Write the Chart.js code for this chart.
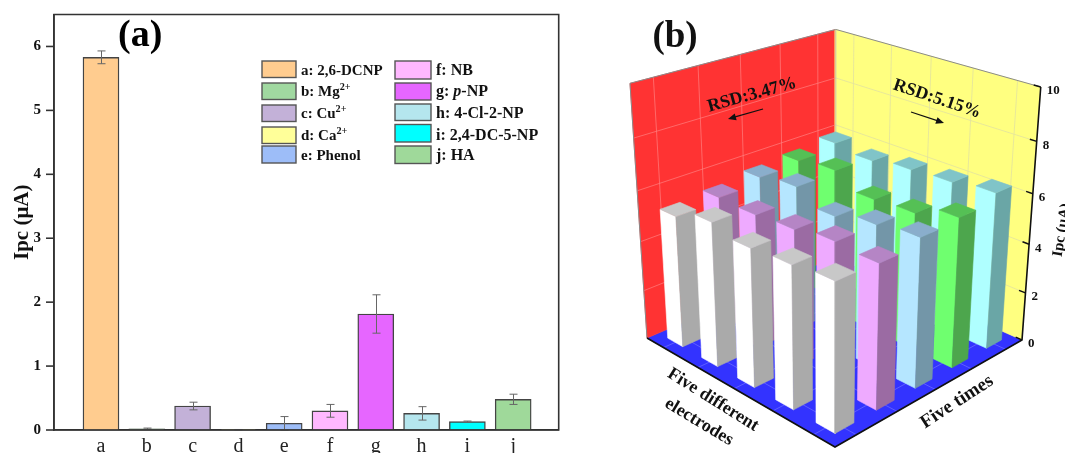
<!DOCTYPE html>
<html><head><meta charset="utf-8">
<style>
html,body{margin:0;padding:0;background:#fff;width:1065px;height:453px;overflow:hidden}
canvas{position:absolute;top:0;filter:blur(0.45px)}
#ca{left:0}#cb{left:600px}
</style>
<script src="https://cdn.jsdelivr.net/npm/chart.js@4"></script>
</head><body>
<canvas id="ca" width="600" height="453"></canvas>
<canvas id="cb" width="465" height="453"></canvas>
<script>
// ---------- panel (a) data ----------
const categories=["a","b","c","d","e","f","g","h","i","j"];
const ipcValues=[5.83,0.02,0.375,0.005,0.105,0.30,1.815,0.26,0.13,0.48];
const ipcErrors=[0.10,0.01,0.06,0.003,0.105,0.10,0.30,0.105,0.01,0.08];
const barColors=["#FFCC8F","#A0D8A0","#C3B1D8","#FFFF99","#9DBDF8","#FFB8FF","#E666FF","#B5E6EE","#00FFFF","#9FD99A"];
const legendLabels=["a: 2,6-DCNP","b: Mg<sup>2+</sup>","c: Cu<sup>2+</sup>","d: Ca<sup>2+</sup>","e: Phenol","f: NB","g: <i>p</i>-NP","h: 4-Cl-2-NP","i: 2,4-DC-5-NP","j: HA"];
// ---------- panel (b) data ----------
const whiteRow=[5.29,5.72,5.42,5.51,5.65];
const pinkRow=[5.43,5.38,5.47,5.69,5.59];
const blueRow=[5.66,5.88,5.34,5.67,5.86];
const greenRow=[5.78,5.96,5.40,5.49,5.96];
const cyanRow=[5.98,5.80,6.01,6.10,6.29];
const zTicks=[0,2,4,6,8,10];

const SERIF="'Liberation Serif'";
const INK="#333";

const errorBars={id:'errorBars',afterDatasetsDraw(c){
  const {ctx,scales:{x,y}}=c;ctx.save();ctx.strokeStyle="#666";ctx.lineWidth=1;
  ipcValues.forEach((v,i)=>{
    const px=Math.round(x.getPixelForValue(i))+.5,t=y.getPixelForValue(v+ipcErrors[i]),b=y.getPixelForValue(Math.max(0,v-ipcErrors[i]));
    ctx.beginPath();ctx.moveTo(px,t);ctx.lineTo(px,b);
    ctx.moveTo(px-4,t);ctx.lineTo(px+4,t);ctx.moveTo(px-4,b);ctx.lineTo(px+4,b);ctx.stroke();
  });ctx.restore();
}};
const frame={id:'frame',afterDatasetsDraw(c){
  const {ctx,chartArea:a,scales:{y}}=c;ctx.save();ctx.strokeStyle=INK;ctx.lineWidth=1.6;
  ctx.beginPath();ctx.moveTo(a.left,a.bottom);ctx.lineTo(a.left,a.top);ctx.lineTo(a.right,a.top);ctx.lineTo(a.right,a.bottom);ctx.lineTo(a.left,a.bottom);ctx.stroke();
  y.ticks.forEach(t=>{const p=y.getPixelForValue(t.value);ctx.beginPath();ctx.moveTo(a.left-8,p);ctx.lineTo(a.left,p);ctx.stroke();});
  ctx.fillStyle="#000";ctx.font="bold 38px "+SERIF;ctx.textBaseline="alphabetic";ctx.textAlign="left";ctx.fillText("(a)",118,46);
  ctx.restore();
}};
function richText(ctx,html,x,y,size){
  const parts=html.split(/(<sup>.*?<\/sup>|<i>.*?<\/i>)/).filter(Boolean);
  parts.forEach(p=>{
    let dy=0,font="bold "+size+"px "+SERIF,txt=p;
    if(p.startsWith("<sup>")){txt=p.replace(/<\/?sup>/g,"");font="bold "+(size*.68)+"px "+SERIF;dy=-6;}
    else if(p.startsWith("<i>")){txt=p.replace(/<\/?i>/g,"");font="italic bold "+size+"px "+SERIF;}
    ctx.font=font;ctx.fillText(txt,x,y+dy);x+=ctx.measureText(txt).width;
  });
}
const legendBox={id:'legendBox',afterDatasetsDraw(c){
  const {ctx}=c;ctx.save();ctx.textBaseline="alphabetic";ctx.textAlign="left";
  const tops=[61,83,105,127,146],h=[16.5,16.5,16.5,16.5,17];
  const tops2=[61,83,104,124.5,146],h2=[18,17,16.5,17.5,17.5];
  const base=[75,96,118,140,160];
  legendLabels.forEach((l,i)=>{
    const col=i<5?0:1,r=i%5;
    const x=col?395:262,w=col?36:34,top=col?tops2[r]:tops[r],ht=col?h2[r]:h[r];
    ctx.fillStyle=barColors[i];ctx.strokeStyle="#555";ctx.lineWidth=1.4;
    ctx.fillRect(x,top,w,ht);ctx.strokeRect(x,top,w,ht);
    ctx.fillStyle="#111";richText(ctx,l,col?436:301,base[r],col?16:15);
  });
  ctx.restore();
}};
new Chart(document.getElementById('ca'),{
  type:'bar',
  data:{datasets:[{label:'Ipc',data:ipcValues.map((v,i)=>({x:i,y:v})),backgroundColor:barColors,borderColor:"#444",borderWidth:1.4,barThickness:36}]},
  options:{responsive:false,animation:false,devicePixelRatio:1,
    layout:{padding:{top:14.5,right:41.3,left:0,bottom:0}},
    plugins:{legend:{display:false},tooltip:{enabled:false}},
    scales:{
      x:{type:'linear',offset:false,min:-1.026,max:9.994,
        afterFit(s){s.height=23;s.paddingLeft=0;s.paddingRight=0;},
        grid:{display:false,drawTicks:false},border:{color:INK,width:1.6},
        ticks:{stepSize:1,includeBounds:false,autoSkip:false,maxRotation:0,padding:5,color:"#222",font:{family:SERIF,size:20},callback:v=>categories[v]??''}},
      y:{min:0,max:6.5,
        afterFit(s){s.width=54;s.paddingTop=0;s.paddingBottom=0;},
        grid:{drawOnChartArea:false,drawTicks:false},border:{color:INK,width:1.6},
        title:{display:true,text:"Ipc (μA)",color:"#111",font:{family:SERIF,size:21,weight:'bold'},padding:{top:10,bottom:0}},
        ticks:{stepSize:1,includeBounds:false,padding:13,color:"#111",font:{family:SERIF,size:15,weight:'bold'}}}
    }},
  plugins:[errorBars,legendBox,frame]
});

// ---------- panel (b): perspective view of a 5×5 bar grid ----------
const corner={L:[647,338],F:[835,447],R:[1022,340],B:[835,257]};
const vanish=[825,3000];
const wallTopY=87;
const cam=(()=>{
  const [x0,y0]=corner.L,[x1,y1]=corner.F,[x2,y2]=corner.R,[x3,y3]=corner.B;
  const dx1=x1-x2,dx2=x3-x2,sx=x0-x1+x2-x3,dy1=y1-y2,dy2=y3-y2,sy=y0-y1+y2-y3;
  const den=dx1*dy2-dx2*dy1,g=(sx*dy2-dx2*sy)/den,h=(dx1*sy-sx*dy1)/den;
  const a=x1-x0+g*x1,b=x3-x0+h*x3,d=y1-y0+g*y1,e=y3-y0+h*y3;
  const q=(1+g+h)*(wallTopY-y2)/(vanish[1]-wallTopY);
  return {a,b,c:x0,d,e,f:y0,g,h,q};
})();
function project(s,t,z){
  const w=z/10,m=cam;
  const W=m.g*s+m.h*t+1+m.q*w;
  return {x:(m.a*s+m.b*t+m.c+m.q*w*vanish[0])/W,y:(m.d*s+m.e*t+m.f+m.q*w*vanish[1])/W};
}
const layers=[];
function poly(label,pts,color){layers.push({label,data:[...pts,pts[0]],showLine:true,fill:'shape',backgroundColor:color,borderColor:color,borderWidth:.6,pointRadius:0,tension:0,clip:false});}
function line(label,pts,color,w){layers.push({label,data:pts,showLine:true,fill:false,borderColor:color,borderWidth:w,pointRadius:0,tension:0,clip:false});}
// walls and floor
poly('floor',[project(0,0,0),project(1,0,0),project(1,1,0),project(0,1,0)],"#3333FF");
poly('left wall',[project(0,0,0),project(0,1,0),project(0,1,10),project(0,0,10)],"#FF3333");
poly('right wall',[project(0,1,0),project(1,1,0),project(1,1,10),project(0,1,10)],"#FFFF80");
const gridPos=[.1,.3,.5,.7,.9];
gridPos.forEach(p=>{
  line('g',[project(p,0,0),project(p,1,0)],"#7070FF",.7);
  line('g',[project(0,p,0),project(1,p,0)],"#7070FF",.7);
  line('g',[project(0,p,0),project(0,p,10)],"#FF8080",.7);
  line('g',[project(p,1,0),project(p,1,10)],"#E2E2A0",.8);
});
zTicks.slice(1,-1).forEach(z=>{
  line('g',[project(0,0,z),project(0,1,z)],"#FF8080",.7);
  line('g',[project(0,1,z),project(1,1,z)],"#E2E2A0",.8);
});
line('edge',[project(0,0,0),project(0,0,10),project(0,1,10),project(1,1,10)],"#8a8a8a",1);
line('edge',[project(0,1,0),project(0,1,10)],"#bbb",.8);
line('axis',[project(0,0,0),project(1,0,0),project(1,1,0),project(1,1,10)],"#111",1.6);
zTicks.forEach(z=>line('tick',[project(1,1,z),project(.97,1,z)],"#111",1.4));
// bars, back row first
const rows=[
  {name:'cyan',values:cyanRow,t:.9,left:"#AFFFFF",right:"#6AA6A6",top:"#80C4C8"},
  {name:'green',values:greenRow,t:.7,left:"#6FFF6F",right:"#4DA64D",top:"#55C055"},
  {name:'blue',values:blueRow,t:.5,left:"#B5E6FF",right:"#7396A8",top:"#8AAECC"},
  {name:'pink',values:pinkRow,t:.3,left:"#EEAAFF",right:"#9B6BA3",top:"#B585C5"},
  {name:'white',values:whiteRow,t:.1,left:"#FFFFFF",right:"#AAAAAA",top:"#C8C8C8"}
];
const halfBar=.045;
rows.forEach(r=>r.values.forEach((v,i)=>{
  const s=gridPos[i],a=s-halfBar,b=s+halfBar,c=r.t-halfBar,d=r.t+halfBar;
  poly(r.name+' left',[project(a,c,0),project(b,c,0),project(b,c,v),project(a,c,v)],r.left);
  poly(r.name+' right',[project(b,c,0),project(b,d,0),project(b,d,v),project(b,c,v)],r.right);
  poly(r.name+' top',[project(a,c,v),project(b,c,v),project(b,d,v),project(a,d,v)],r.top);
}));
layers.forEach((l,i)=>l.order=layers.length-i);

function rotText(ctx,txt,x,y,deg,font){
  ctx.save();ctx.translate(x,y);ctx.rotate(deg*Math.PI/180);ctx.font=font;ctx.fillStyle="#111";ctx.textAlign="center";ctx.textBaseline="middle";ctx.fillText(txt,0,0);ctx.restore();
}
function arrow(ctx,x0,y0,x1,y1){
  const an=Math.atan2(y1-y0,x1-x0),L=8,W=3.5;
  ctx.save();ctx.strokeStyle="#111";ctx.fillStyle="#111";ctx.lineWidth=1.3;
  ctx.beginPath();ctx.moveTo(x0,y0);ctx.lineTo(x1-L*.7*Math.cos(an),y1-L*.7*Math.sin(an));ctx.stroke();
  ctx.beginPath();ctx.moveTo(x1,y1);
  ctx.lineTo(x1-L*Math.cos(an)+W*Math.sin(an),y1-L*Math.sin(an)-W*Math.cos(an));
  ctx.lineTo(x1-L*Math.cos(an)-W*Math.sin(an),y1-L*Math.sin(an)+W*Math.cos(an));
  ctx.closePath();ctx.fill();ctx.restore();
}
const annotate={id:'annotate',afterDatasetsDraw(c){
  const {ctx,scales:{x,y}}=c;const B="bold ";
  const X=v=>x.getPixelForValue(v),Y=v=>y.getPixelForValue(v);
  rotText(ctx,"(b)",X(675),Y(37),0,B+"37px "+SERIF);
  rotText(ctx,"RSD:3.47%",X(752),Y(95),-15.5,B+"18px "+SERIF);
  rotText(ctx,"RSD:5.15%",X(937),Y(99),18.5,B+"18px "+SERIF);
  arrow(ctx,X(763),Y(109),X(728),Y(119));
  arrow(ctx,X(911),Y(112),X(944),Y(123));
  rotText(ctx,"Five different",X(713),Y(400),32,B+"18px "+SERIF);
  rotText(ctx,"electrodes",X(699),Y(422),31,B+"18px "+SERIF);
  rotText(ctx,"Five times",X(957),Y(402),-33,B+"19px "+SERIF);
  rotText(ctx,"Ipc (μA)",X(1062),Y(230),-81,B+"15px "+SERIF);
  ctx.save();ctx.font=B+"13px "+SERIF;ctx.fillStyle="#111";ctx.textAlign="left";ctx.textBaseline="middle";
  zTicks.forEach(z=>{const p=project(1,1,z);ctx.fillText(String(z),X(p.x+6),Y(p.y+4));});
  ctx.restore();
}};
new Chart(document.getElementById('cb'),{
  type:'scatter',
  data:{datasets:layers},
  options:{responsive:false,animation:false,devicePixelRatio:1,
    layout:{padding:0},
    plugins:{legend:{display:false},tooltip:{enabled:false}},
    scales:{x:{type:'linear',min:600,max:1065,display:false},y:{type:'linear',min:0,max:453,reverse:true,display:false}}},
  plugins:[annotate]
});
</script>
</body></html>
